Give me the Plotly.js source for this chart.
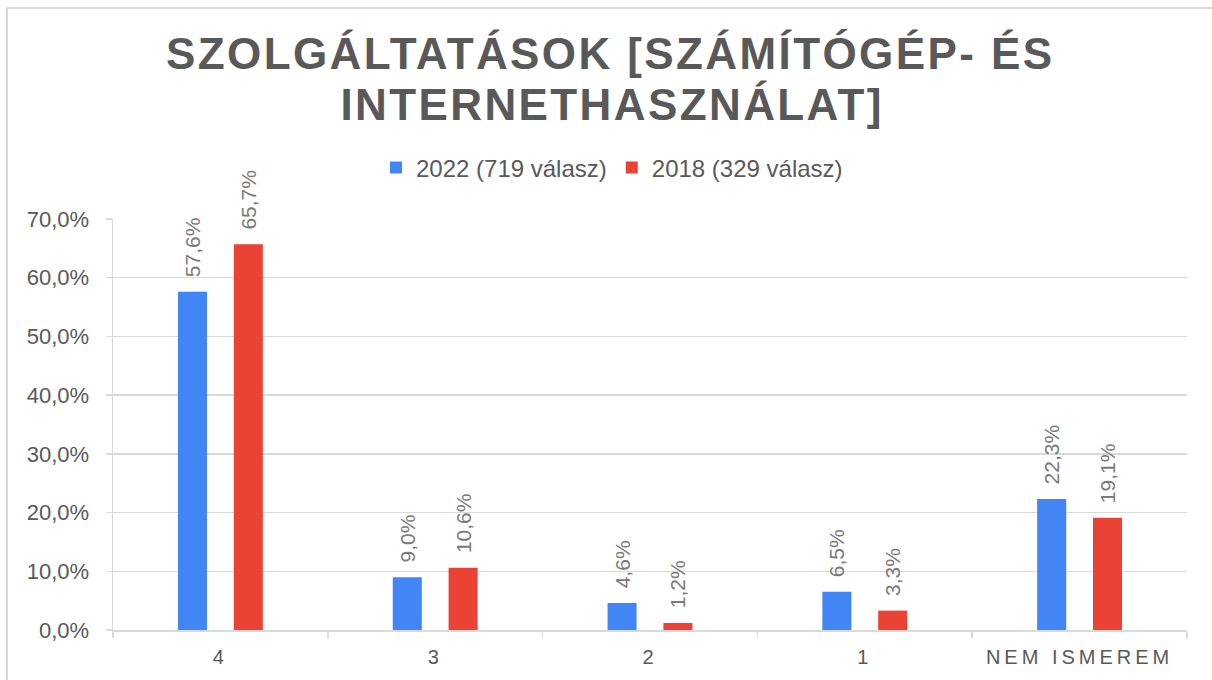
<!DOCTYPE html>
<html>
<head>
<meta charset="utf-8">
<script src="https://cdn.plot.ly/plotly-3.0.1.min.js"></script>
<style>
  html, body { margin: 0; padding: 0; background: #ffffff; }
  #wrap { position: relative; width: 1212px; height: 680px; overflow: hidden; }
  #frame { position: absolute; left: 6px; top: 7px; width: 1300px; height: 800px;
           border-left: 2px solid #d9d9d9; border-top: 2px solid #d9d9d9; pointer-events: none; }
  #chart { position: absolute; left: 0; top: 0; width: 1212px; height: 680px; }
  .annotation-text-g text { letter-spacing: 2.4px; }
  .xtick text { letter-spacing: 4px; }
</style>
</head>
<body>
<div id="wrap">
  <div id="chart"></div>
  <div id="frame"></div>
</div>
<script>
const titleLines = ['SZOLGÁLTATÁSOK [SZÁMÍTÓGÉP- ÉS', 'INTERNETHASZNÁLAT]'];
const categories = ['4', '3', '2', '1', 'NEM ISMEREM'];
const series2022Name = '2022 (719 válasz)';
const series2018Name = '2018 (329 válasz)';
const values2022 = [57.6, 9.0, 4.6, 6.5, 22.3];
const values2018 = [65.7, 10.6, 1.2, 3.3, 19.1];
const yTickValues = [0, 10, 20, 30, 40, 50, 60, 70];
const yTickLabels = yTickValues.map(v => v.toFixed(1).replace('.', ',') + '%');

const labelFont = { family: 'Liberation Sans, Arial, sans-serif', size: 21, color: '#7a7a7a' };

function barTrace(name, values, color) {
  return {
    type: 'bar',
    name: name,
    x: categories,
    y: values,
    marker: { color: color },
    texttemplate: '\u00a0\u00a0%{y:.1f}%',
    textposition: 'outside',
    textangle: -90,
    textfont: labelFont,
    constraintext: 'none',
    cliponaxis: false,
    hoverinfo: 'skip'
  };
}

const data = [
  barTrace(series2022Name, values2022, '#4285F4'),
  barTrace(series2018Name, values2018, '#EA4335')
];

const plotTop = 219, plotBottom = 630;
function paperY(px) { return (plotBottom - px) / (plotBottom - plotTop); }

const titleFont = { family: 'Liberation Sans, Arial, sans-serif', size: 44, weight: 'bold', color: '#595959' };

const layout = {
  width: 1212,
  height: 680,
  margin: { l: 113, r: 25, t: 219, b: 50 },
  paper_bgcolor: 'rgba(0,0,0,0)',
  plot_bgcolor: 'rgba(0,0,0,0)',
  separators: ', ',
  font: { family: 'Liberation Sans, Arial, sans-serif', color: '#595959' },
  annotations: [
    { text: titleLines[0], xref: 'paper', yref: 'paper', x: (610 - 113) / 1074, y: paperY(54),
      xanchor: 'center', yanchor: 'middle', showarrow: false, font: titleFont },
    { text: titleLines[1], xref: 'paper', yref: 'paper', x: (612 - 113) / 1074, y: paperY(105),
      xanchor: 'center', yanchor: 'middle', showarrow: false, font: titleFont }
  ],
  showlegend: true,
  legend: {
    orientation: 'h',
    x: (612 - 113) / 1074, xanchor: 'center',
    y: paperY(168), yanchor: 'middle',
    font: { size: 24, color: '#595959' },
    itemwidth: 30,
    traceorder: 'normal'
  },
  bargap: 0.48,
  bargroupgap: 0.48,
  xaxis: {
    type: 'category',
    showline: true,
    linecolor: '#d9d9d9',
    linewidth: 1.5,
    ticks: 'outside',
    tickson: 'boundaries',
    ticklen: 6,
    tickcolor: '#d9d9d9',
    tickwidth: 1.5,
    showgrid: false,
    tickfont: { size: 20, color: '#595959' },
    ticklabelstandoff: 8
  },
  yaxis: {
    range: [0, 70],
    tickvals: yTickValues,
    ticktext: yTickLabels,
    showgrid: true,
    gridcolor: '#d9d9d9',
    gridwidth: 1.5,
    showline: true,
    linecolor: '#d9d9d9',
    linewidth: 1.5,
    ticks: 'outside',
    ticklen: 6,
    tickcolor: '#d9d9d9',
    tickwidth: 1.5,
    zeroline: false,
    tickfont: { size: 22, color: '#595959' },
    ticklabelstandoff: 12
  }
};

Plotly.newPlot('chart', data, layout, { displayModeBar: false, staticPlot: true });
</script>
</body>
</html>
